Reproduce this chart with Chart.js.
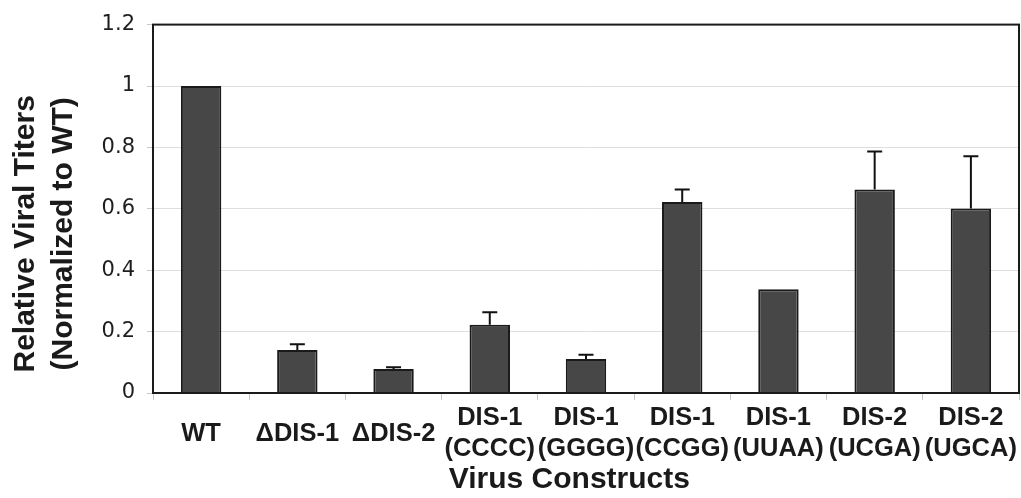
<!DOCTYPE html>
<html>
<head>
<meta charset="utf-8">
<script src="https://cdn.jsdelivr.net/npm/chart.js@4.4.1/dist/chart.umd.min.js"></script>
<style>
  html, body { margin: 0; padding: 0; background: #fff; }
  #wrap { width: 1021px; height: 498px; }
</style>
</head>
<body>
<div id="wrap"><canvas id="c" width="1021" height="498"></canvas></div>
<script>
const categories = [
  ['WT'], ['\u0394DIS-1'], ['\u0394DIS-2'],
  ['DIS-1', '(CCCC)'], ['DIS-1', '(GGGG)'], ['DIS-1', '(CCGG)'],
  ['DIS-1', '(UUAA)'], ['DIS-2', '(UCGA)'], ['DIS-2', '(UGCA)']
];
const titerValues = [1.0, 0.14, 0.078, 0.222, 0.111, 0.622, 0.338, 0.663, 0.601];
const titerErrors = [null, 0.019, 0.006, 0.041, 0.014, 0.041, null, 0.124, 0.170];
const yTickLabels = ['0', '0.2', '0.4', '0.6', '0.8', '1', '1.2'];

const errorBarPlugin = {
  id: 'errorBars',
  afterDatasetsDraw(chart) {
    const ctx = chart.ctx;
    const yScale = chart.scales.y;
    const meta = chart.getDatasetMeta(0);
    ctx.save();
    ctx.strokeStyle = '#111';
    ctx.lineWidth = 2;
    meta.data.forEach((bar, i) => {
      const err = titerErrors[i];
      if (err == null) return;
      const top = yScale.getPixelForValue(titerValues[i] + err);
      ctx.beginPath();
      ctx.moveTo(bar.x, bar.y);
      ctx.lineTo(bar.x, top);
      ctx.moveTo(bar.x - 7.5, top);
      ctx.lineTo(bar.x + 7.5, top);
      ctx.stroke();
    });
    ctx.restore();
  }
};

const framePlugin = {
  id: 'frame',
  afterDatasetsDraw(chart) {
    const a = chart.chartArea;
    const ctx = chart.ctx;
    ctx.save();
    ctx.strokeStyle = '#1a1a1a';
    ctx.lineWidth = 2;
    ctx.strokeRect(a.left, a.top, a.right - a.left, a.bottom - a.top);
    ctx.restore();
  }
};

new Chart(document.getElementById('c'), {
  type: 'bar',
  data: {
    labels: categories,
    datasets: [{
      data: titerValues,
      backgroundColor: '#474747',
      borderColor: '#1a1a1a',
      borderWidth: 2,
      categoryPercentage: 1,
      barPercentage: 0.42
    }]
  },
  options: {
    responsive: false,
    animation: false,
    layout: { padding: { top: 20, right: 2, left: 0, bottom: 0 } },
    plugins: { legend: { display: false }, tooltip: { enabled: false } },
    scales: {
      x: {
        grid: {
          offset: true,
          drawOnChartArea: false,
          tickLength: 7,
          tickColor: '#c8c8c8'
        },
        border: { color: '#1a1a1a', width: 2 },
        ticks: {
          crossAlign: 'center',
          padding: 18,
          color: '#1a1a1a',
          maxRotation: 0,
          autoSkip: false,
          font: { family: '"Liberation Sans", Arial, sans-serif', size: 25.5, weight: 'bold', lineHeight: 1.216 }
        },
        title: {
          display: true,
          text: 'Virus Constructs    ',
          color: '#1a1a1a',
          padding: { top: 0, bottom: 0 },
          font: { family: '"Liberation Sans", Arial, sans-serif', size: 30, weight: 'bold', lineHeight: 1.2 }
        },
        afterFit(scale) {
          scale.height = 105;
          scale.paddingLeft = 0;
          scale.paddingRight = 0;
        }
      },
      y: {
        min: 0,
        max: 1.2,
        ticks: {
          stepSize: 0.2,
          padding: 12,
          color: '#1e1e1e',
          font: { family: '"DejaVu Sans", sans-serif', size: 21 },
          callback: (v, i) => yTickLabels[i]
        },
        grid: {
          color: '#dedede',
          tickColor: '#c8c8c8',
          tickLength: 6,
          lineWidth: 1
        },
        border: { color: '#1a1a1a', width: 2 },
        title: {
          display: true,
          text: ['Relative Viral Titers      ', '(Normalized to WT)      '],
          color: '#1a1a1a',
          padding: { top: 7, bottom: 0 },
          font: { family: '"Liberation Sans", Arial, sans-serif', size: 30, weight: 'bold', lineHeight: 1.25 }
        },
        afterFit(scale) { scale.width = 153; }
      }
    }
  },
  plugins: [errorBarPlugin, framePlugin]
});
</script>
</body>
</html>
